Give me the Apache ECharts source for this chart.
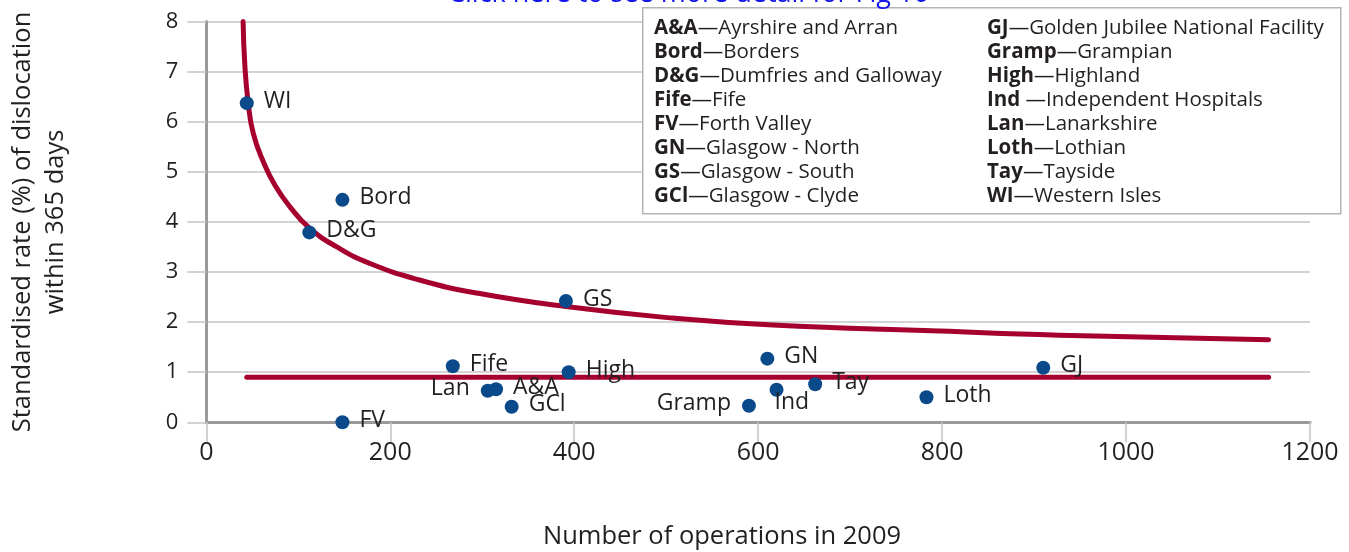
<!DOCTYPE html>
<html>
<head>
<meta charset="utf-8">
<script src="https://cdn.jsdelivr.net/npm/echarts@6/dist/echarts.min.js"></script>
<style>
html,body{margin:0;padding:0;background:#fff;}
#chart{width:1349px;height:552px;}
</style>
</head>
<body>
<div id="chart"></div>
<script>
// ---- data ----
const regionCodes = ['WI','Bord','D&G','GS','Fife','High','GN','Lan','A&A','GCl','FV','Gramp','Ind','Tay','Loth','GJ'];
const operations  = [44, 148, 112, 391, 268, 394, 610, 306, 315, 332, 148, 590, 620, 662, 783, 910];
const rates       = [6.37, 4.44, 3.79, 2.42, 1.12, 1.00, 1.27, 0.63, 0.66, 0.31, 0.00, 0.33, 0.65, 0.76, 0.50, 1.09];

const upperLimitX = [40, 42, 45.6, 51, 62, 75, 91, 112, 142, 178, 232, 294, 391, 507, 616, 797, 927, 1155];
const upperLimitY = [8.0, 7.1, 6.37, 5.77, 5.20, 4.72, 4.30, 3.88, 3.50, 3.17, 2.84, 2.58, 2.31, 2.08, 1.94, 1.82, 1.74, 1.65];

const meanRate = 0.9;
const meanLineX = [44, 1155];

const xTicks = [0, 200, 400, 600, 800, 1000, 1200];
const yTicks = [0, 1, 2, 3, 4, 5, 6, 7, 8];

const legendCodesLeft  = ['A&A','Bord','D&G','Fife','FV','GN','GS','GCl'];
const legendNamesLeft  = ['Ayrshire and Arran','Borders','Dumfries and Galloway','Fife','Forth Valley','Glasgow - North','Glasgow - South','Glasgow - Clyde'];
const legendCodesRight = ['GJ','Gramp','High','Ind ','Lan','Loth','Tay','WI'];
const legendNamesRight = ['Golden Jubilee National Facility','Grampian','Highland','Independent Hospitals','Lanarkshire','Lothian','Tayside','Western Isles'];

const titleText = 'Click here to see more detail for Fig 10';
const xAxisName = 'Number of operations in 2009';
const yAxisName = 'Standardised rate (%) of dislocation\nwithin 365 days';

// ---- styling ----
const FONT = '"Open Sans", "Noto Sans", sans-serif';
const TEXT = '#231f20';
const RED = '#a6002e';
const BLUE = '#0b4a8a';

const leftLabelCodes = ['Lan', 'Gramp'];
const belowLabelCodes = ['Ind'];

const scatterData = regionCodes.map((c, i) => {
  const item = { name: c, value: [operations[i], rates[i]] };
  if (leftLabelCodes.includes(c)) {
    item.label = { position: 'left', distance: 11 };
  } else if (belowLabelCodes.includes(c)) {
    item.label = { position: [5, 10], align: 'left', verticalAlign: 'top' };
  }
  return item;
});

const curveData = upperLimitX.map((x, i) => [x, upperLimitY[i]]);
const meanData = meanLineX.map(x => [x, meanRate]);

const legendGraphics = [];
const boxX = 642, boxY = 7, boxW = 698, boxH = 206;
legendGraphics.push({
  type: 'rect', left: boxX, top: boxY, z: 10,
  shape: { width: boxW, height: boxH },
  style: { fill: '#fff', stroke: '#b4b4b4', lineWidth: 1.5 }
});
function addCol(codes, names, x) {
  codes.forEach((c, i) => {
    legendGraphics.push({
      type: 'text', x: x, y: 28 + i * 24, z: 11,
      style: {
        text: '{b|' + c + '}{n|—' + names[i] + '}',
        rich: {
          b: { fontFamily: FONT, fontSize: 20.5, fontWeight: 'bold', fill: TEXT },
          n: { fontFamily: FONT, fontSize: 20.5, fill: TEXT }
        },
        verticalAlign: 'middle', align: 'left'
      }
    });
  });
}
addCol(legendCodesLeft, legendNamesLeft, 654);
addCol(legendCodesRight, legendNamesRight, 987);

const chart = echarts.init(document.getElementById('chart'), null, { renderer: 'canvas' });
chart.setOption({
  backgroundColor: '#fff',
  animation: false,
  textStyle: { fontFamily: FONT, color: TEXT },
  grid: { left: 206.3, right: 39, top: 21.5, bottom: 129.7 },
  xAxis: {
    type: 'value', min: 0, max: 1200, interval: 200,
    axisLine: { show: true, onZero: false, lineStyle: { color: '#9a9a9a', width: 3 } },
    axisTick: { show: true, length: 20, lineStyle: { color: '#c4c4c4', width: 1.5 } },
    splitLine: { show: false },
    axisLabel: { fontFamily: FONT, fontSize: 25, color: TEXT, margin: 18,
      formatter: v => xTicks.includes(v) ? String(v) : '' }
  },
  yAxis: {
    type: 'value', min: 0, max: 8, interval: 1,
    axisLine: { show: true, onZero: false, lineStyle: { color: '#9a9a9a', width: 3 } },
    axisTick: { show: true, length: 19, lineStyle: { color: '#c4c4c4', width: 1.5 } },
    splitLine: { show: true, lineStyle: { color: '#c4c4c4', width: 1.5 } },
    axisLabel: { fontFamily: FONT, fontSize: 22, color: TEXT, margin: 28,
      formatter: v => yTicks.includes(v) ? String(v) : '' }
  },
  graphic: [
    {
      type: 'text', x: 448, y: -6, z: 12,
      style: { text: titleText, fontFamily: FONT, fontSize: 27,
        fill: '#1414ee', align: 'left', verticalAlign: 'middle' }
    },
    {
      type: 'text', x: 39, y: 222, rotation: Math.PI / 2,
      style: { text: yAxisName, fontFamily: FONT, fontSize: 25.5, lineHeight: 33,
        fill: TEXT, align: 'center', verticalAlign: 'middle' }
    },
    {
      type: 'text', x: 722, y: 537,
      style: { text: xAxisName, fontFamily: FONT, fontSize: 25.5,
        fill: TEXT, align: 'center', verticalAlign: 'middle' }
    }
  ].concat(legendGraphics),
  series: [
    {
      type: 'line', data: curveData, smooth: 0.5,
      showSymbol: false, symbol: 'none', z: 2, clip: true,
      lineStyle: { color: RED, width: 5, cap: 'round' }
    },
    {
      type: 'line', data: meanData, showSymbol: false, symbol: 'none', z: 2,
      lineStyle: { color: RED, width: 5, cap: 'round' }
    },
    {
      type: 'scatter', data: scatterData, symbolSize: 14, z: 3,
      itemStyle: { color: BLUE, opacity: 1 },
      label: {
        show: true, position: 'right', distance: 10, offset: [0, -2],
        formatter: p => p.name, fontFamily: FONT, fontSize: 23, color: TEXT
      }
    }
  ]
});
</script>
</body>
</html>
